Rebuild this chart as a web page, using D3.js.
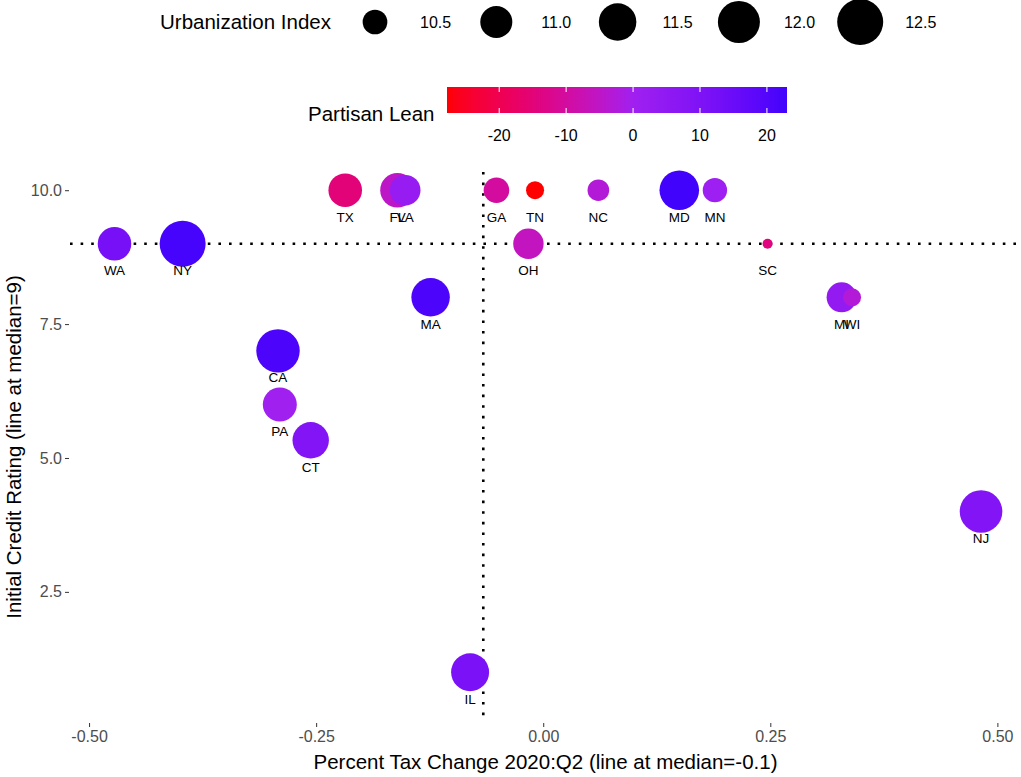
<!DOCTYPE html>
<html>
<head>
<meta charset="utf-8">
<script src="https://cdn.jsdelivr.net/npm/d3@7"></script>
<style>
  html, body { margin: 0; padding: 0; background: #fff; }
  svg { display: block; font-family: "Liberation Sans", Arial, sans-serif; }
</style>
</head>
<body>
<svg id="chart" width="1021" height="777"></svg>
<script>
// ---------------- data ----------------
const states = ["WA","NY","TX","FL","VA","GA","TN","NC","MD","MN","OH","SC","MA","MI","WI","CA","PA","CT","NJ","IL"];
const taxChange = [-0.472,-0.397,-0.218,-0.1605,-0.152,-0.0515,-0.009,0.0607,0.1498,0.189,-0.0163,0.247,-0.124,0.3285,0.340,-0.292,-0.290,-0.256,0.482,-0.0805];
const creditRating = [9,9,10,10,10,10,10,10,10,10,9,9,8,8,8,7,6,5.33,4,1];
const urbanization = [11.13,12.5,11.13,11.21,10.89,10.55,10.22,10.35,11.72,10.48,10.87,10.1,11.6,10.84,10.22,12.17,11.17,11.39,12.07,11.55];
const partisanLean = [12,22,-15,-5,3,-10,-27.8,-3,23,1,-6,-14,21,4,-3,21,0,9,9,11];

const xTicks = [-0.5,-0.25,0,0.25,0.5];
const yTicks = [2.5,5,7.5,10];
const sizeBreaks = [10.5,11.0,11.5,12.0,12.5];
const colorBreaks = [-20,-10,0,10,20];

const data = states.map((s,i)=>({state:s, x:taxChange[i], y:creditRating[i], size:urbanization[i], lean:partisanLean[i]}));

// ---------------- layout ----------------
const svg = d3.select("#chart");
const panel = {left:70, right:1021, top:172, bottom:722};
const fmtMinus = f => v => f(v).replace("\u2212","-");
const TITLE = 20.5, TICK = 16, LEG = 16, LABEL = 13.5;

const x = d3.scaleLinear().domain([-0.521, 0.526]).range([panel.left, panel.right]);
const y = d3.scaleLinear().domain([0.07, 10.34]).range([panel.bottom, panel.top]);

const sizeExt = d3.extent(urbanization);
const sizeNorm = d3.scaleLinear().domain(sizeExt).range([0,1]);
const rArea = d3.scaleSqrt().domain([0,1]).range([5, 23]);
const r = v => rArea(Math.max(0, sizeNorm(v)));

const leanExt = d3.extent(partisanLean);
const lim = d3.max(leanExt, Math.abs);
const color = d3.scaleLinear().domain([-lim, 0, lim]).range(["#FF0000","#A020F0","#0000FF"]).interpolate(d3.interpolateLab);

// ---------------- median lines ----------------
const medX = d3.median(taxChange);
const medY = d3.median(creditRating);
const dot = {stroke:"#000", "stroke-width":2.6, "stroke-dasharray":"2.6 8"};
const vline = svg.append("line").attr("x1", x(medX)).attr("x2", x(medX)).attr("y1", panel.top).attr("y2", panel.bottom);
const hline = svg.append("line").attr("x1", panel.left).attr("x2", panel.right).attr("y1", y(medY)).attr("y2", y(medY));
[vline,hline].forEach(l=>Object.entries(dot).forEach(([k,v])=>l.attr(k,v)));

// ---------------- points ----------------
svg.append("g").selectAll("circle").data(data).join("circle")
  .attr("cx", d=>x(d.x)).attr("cy", d=>y(d.y)).attr("r", d=>r(d.size))
  .attr("fill", d=>color(d.lean));

svg.append("g").selectAll("text").data(data).join("text")
  .attr("x", d=>x(d.x)).attr("y", d=>y(d.y - 0.5))
  .attr("dy", "0.35em").attr("text-anchor","middle")
  .attr("font-size", LABEL).attr("fill","#000").text(d=>d.state);

// ---------------- axes ----------------
const yAxis = svg.append("g").attr("transform", `translate(${panel.left-1},0)`)
  .call(d3.axisLeft(y).tickValues(yTicks).tickSize(4).tickPadding(3).tickFormat(fmtMinus(d3.format(".1f"))));
const xAxis = svg.append("g").attr("transform", `translate(0,${panel.bottom+1})`)
  .call(d3.axisBottom(x).tickValues(xTicks).tickSize(4).tickPadding(4).tickFormat(fmtMinus(d3.format(".2f"))));
[xAxis,yAxis].forEach(a=>{
  a.select(".domain").remove();
  a.selectAll(".tick line").attr("stroke","#333").attr("stroke-width",1);
  a.selectAll(".tick text").attr("fill","#4D4D4D").attr("font-size",TICK).attr("font-family","Liberation Sans, Arial, sans-serif");
});

svg.append("text").attr("x", (panel.left+panel.right)/2).attr("y", 769)
  .attr("text-anchor","middle").attr("font-size",TITLE).attr("fill","#000")
  .text(`Percent Tax Change 2020:Q2 (line at median=${d3.format(".1f")(medX).replace("\u2212","-")})`);
svg.append("text").attr("transform", `translate(21,${(panel.top+panel.bottom)/2}) rotate(-90)`)
  .attr("text-anchor","middle").attr("font-size",TITLE).attr("fill","#000")
  .text(`Initial Credit Rating (line at median=${d3.format("d")(medY)})`);

// ---------------- size legend ----------------
const sizeLeg = svg.append("g");
sizeLeg.append("text").attr("x",160).attr("y",22).attr("dy","0.35em").attr("font-size",TITLE).text("Urbanization Index");
const legX0 = 375, legStep = 121.3, legY = 22;
sizeBreaks.forEach((b,i)=>{
  const cx = legX0 + i*legStep;
  sizeLeg.append("circle").attr("cx",cx).attr("cy",legY).attr("r", r(b)).attr("fill","#000");
  sizeLeg.append("text").attr("x", cx+45).attr("y", legY).attr("dy","0.35em").attr("font-size",LEG).text(d3.format(".1f")(b));
});

// ---------------- color legend ----------------
const bar = {x0:447, x1:787, y0:87, y1:113};
const barScale = d3.scaleLinear().domain(leanExt).range([bar.x0, bar.x1]);
const defs = svg.append("defs");
const grad = defs.append("linearGradient").attr("id","leanGrad").attr("x1","0%").attr("x2","100%");
d3.range(0,1.0001,0.02).forEach(t=>{
  const v = leanExt[0] + t*(leanExt[1]-leanExt[0]);
  grad.append("stop").attr("offset", (t*100)+"%").attr("stop-color", color(v));
});
const colLeg = svg.append("g");
colLeg.append("text").attr("x",308).attr("y",114).attr("dy","0.35em").attr("font-size",TITLE).text("Partisan Lean");
colLeg.append("rect").attr("x",bar.x0).attr("y",bar.y0).attr("width",bar.x1-bar.x0).attr("height",bar.y1-bar.y0).attr("fill","url(#leanGrad)");
colorBreaks.forEach(b=>{
  const bx = barScale(b);
  colLeg.append("line").attr("x1",bx).attr("x2",bx).attr("y1",bar.y0).attr("y2",bar.y0+5).attr("stroke","#fff").attr("stroke-width",1);
  colLeg.append("line").attr("x1",bx).attr("x2",bx).attr("y1",bar.y1-5).attr("y2",bar.y1).attr("stroke","#fff").attr("stroke-width",1);
  colLeg.append("text").attr("x",bx).attr("y",135).attr("dy","0.35em").attr("text-anchor","middle").attr("font-size",LEG).text(d3.format("d")(b).replace("\u2212","-"));
});
</script>
</body>
</html>
